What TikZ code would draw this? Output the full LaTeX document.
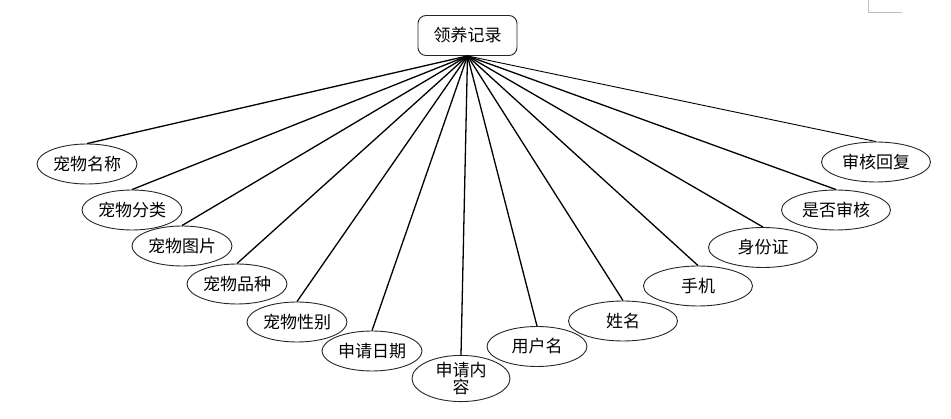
\documentclass[tikz,border=0pt]{standalone}
\usepackage{fontspec}
\newfontfamily\cjk{Noto Sans CJK SC}
\usetikzlibrary{shapes.geometric}
\begin{document}
\begin{tikzpicture}[x=1pt,y=-1pt,
  font=\cjk\fontsize{17}{19}\selectfont,
  attr/.style={ellipse, draw=black!85, line width=0.9pt, inner sep=0pt,
    minimum width=100pt, minimum height=40pt, fill=white},
  wide/.style={minimum width=109pt},
  rootbox/.style={draw=black!85, rounded corners=8pt, line width=0.9pt,
    minimum width=99pt, minimum height=40pt, inner sep=0pt, fill=white},
  link/.style={line width=1.3pt, black}]
\path[use as bounding box] (0,0) rectangle (951,419);
\draw[black!25, line width=0.8pt] (868,0) -- (868,12) -- (902,12);

\node[rootbox] (root) at (467.5,35.5) {领养记录};

\node[attr] (a1) at (87,164) {宠物名称};
\node[attr] (a2) at (132,210) {宠物分类};
\node[attr] (a3) at (182,246) {宠物图片};
\node[attr] (a4) at (237,284) {宠物品种};
\node[attr] (a5) at (297,322) {宠物性别};
\node[attr] (a6) at (372,351) {申请日期};
\node[attr, minimum width=98pt, minimum height=43pt, align=center, font=\cjk\fontsize{17}{17}\selectfont] (a7) at (461,378.5) {申请内\\容};
\node[attr] (a8) at (537,346.5) {用户名};
\node[attr, wide] (a9) at (623,321) {姓名};
\node[attr, wide] (a10) at (698,286) {手机};
\node[attr, wide] (a11) at (763,247.5) {身份证};
\node[attr, wide] (a12) at (836,210) {是否审核};
\node[attr, wide] (a13) at (876,162) {审核回复};

\foreach \n in {a1,a2,a3,a4,a5,a6,a7,a8,a9,a10,a11,a12}
  \draw[link] (root.south) -- (\n.north);
\draw[line width=0.9pt] (root.south) -- (a13.north);
\end{tikzpicture}
\end{document}
